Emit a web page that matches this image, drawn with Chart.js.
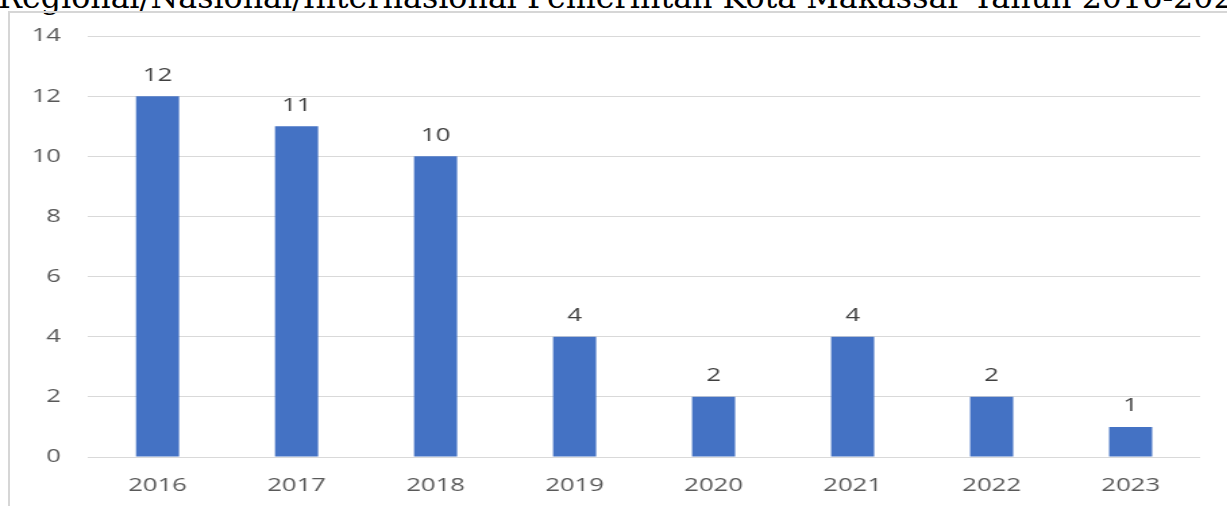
<!DOCTYPE html>
<html>
<head>
<meta charset="utf-8">
<script src="https://cdn.jsdelivr.net/npm/chart.js@4.4.1/dist/chart.umd.min.js"></script>
<style>
  html, body { margin: 0; padding: 0; background: #ffffff; width: 1227px; height: 506px; overflow: hidden; }
  #title { position: absolute; left: -2px; top: 0; white-space: nowrap; font-family: "DejaVu Serif", serif; color: #000; line-height: 1; }
  #frame { position: absolute; left: 8px; top: 11px; width: 1400px; height: 600px; border-top: 2px solid #d6d6d6; border-left: 2px solid #d6d6d6; box-sizing: border-box; }
  #wrap { position: absolute; left: 0; top: 0; width: 909px; height: 506px; transform: scaleX(1.35); transform-origin: 0 0; }
</style>
</head>
<body>
<div id="title">Regional/Nasional/Internasional Pemerintah Kota Makassar Tahun 2016-2023<span id="bl" style="display:inline-block;width:0;height:0;"></span></div>
<div id="frame"></div>
<div id="wrap"><canvas id="c" width="909" height="506"></canvas></div>
<script>
const categories = ["2016", "2017", "2018", "2019", "2020", "2021", "2022", "2023"];
const values = [12, 11, 10, 4, 2, 4, 2, 1];
const yTicks = [0, 2, 4, 6, 8, 10, 12, 14];

// Fit title so the visible part spans the window width, baseline near y=8
(function () {
  const t = document.getElementById('title');
  const visible = "Regional/Nasional/Internasional Pemerintah Kota Makassar Tahun 2016-202";
  const cv = document.createElement('canvas').getContext('2d');
  cv.font = '100px "DejaVu Serif"';
  const w = cv.measureText(visible).width;
  const size = 100 * 1236 / w;
  t.style.fontSize = size + 'px';
  const bl = document.getElementById('bl');
  const off = bl.getBoundingClientRect().top - t.getBoundingClientRect().top;
  t.style.top = (8 - off) + 'px';
})();

const valueLabels = {
  id: 'valueLabels',
  afterDatasetsDraw(chart) {
    const ctx = chart.ctx;
    const meta = chart.getDatasetMeta(0);
    ctx.save();
    ctx.font = '19px "Open Sans"';
    ctx.fillStyle = '#404040';
    ctx.textAlign = 'center';
    ctx.textBaseline = 'middle';
    meta.data.forEach((bar, i) => {
      ctx.fillText(String(values[i]), bar.x, bar.y - 21);
    });
    ctx.restore();
  }
};

new Chart(document.getElementById('c'), {
  type: 'bar',
  data: {
    labels: categories,
    datasets: [{
      data: values,
      backgroundColor: '#4472C4',
      borderWidth: 0,
      categoryPercentage: 1,
      barPercentage: 0.31
    }]
  },
  options: {
    responsive: false,
    animation: false,
    devicePixelRatio: 1,
    layout: { padding: { left: 0, right: 20, top: 36, bottom: 0 } },
    plugins: { legend: { display: false }, tooltip: { enabled: false }, title: { display: false } },
    scales: {
      x: {
        grid: { display: false, drawTicks: false },
        border: { display: false },
        ticks: { color: '#595959', font: { family: 'Open Sans', size: 19 }, padding: 17, maxRotation: 0 },
        afterFit(s) { s.height = 49; }
      },
      y: {
        min: 0, max: 14,
        afterBuildTicks(s) { s.ticks = yTicks.map(v => ({ value: v })); },
        grid: { color: '#d9d9d9', lineWidth: 1, drawTicks: false },
        border: { display: false },
        ticks: { color: '#595959', font: { family: 'Open Sans', size: 19 }, padding: 20 },
        afterFit(s) { s.width = 65.2; }
      }
    }
  },
  plugins: [valueLabels]
});
</script>
</body>
</html>
